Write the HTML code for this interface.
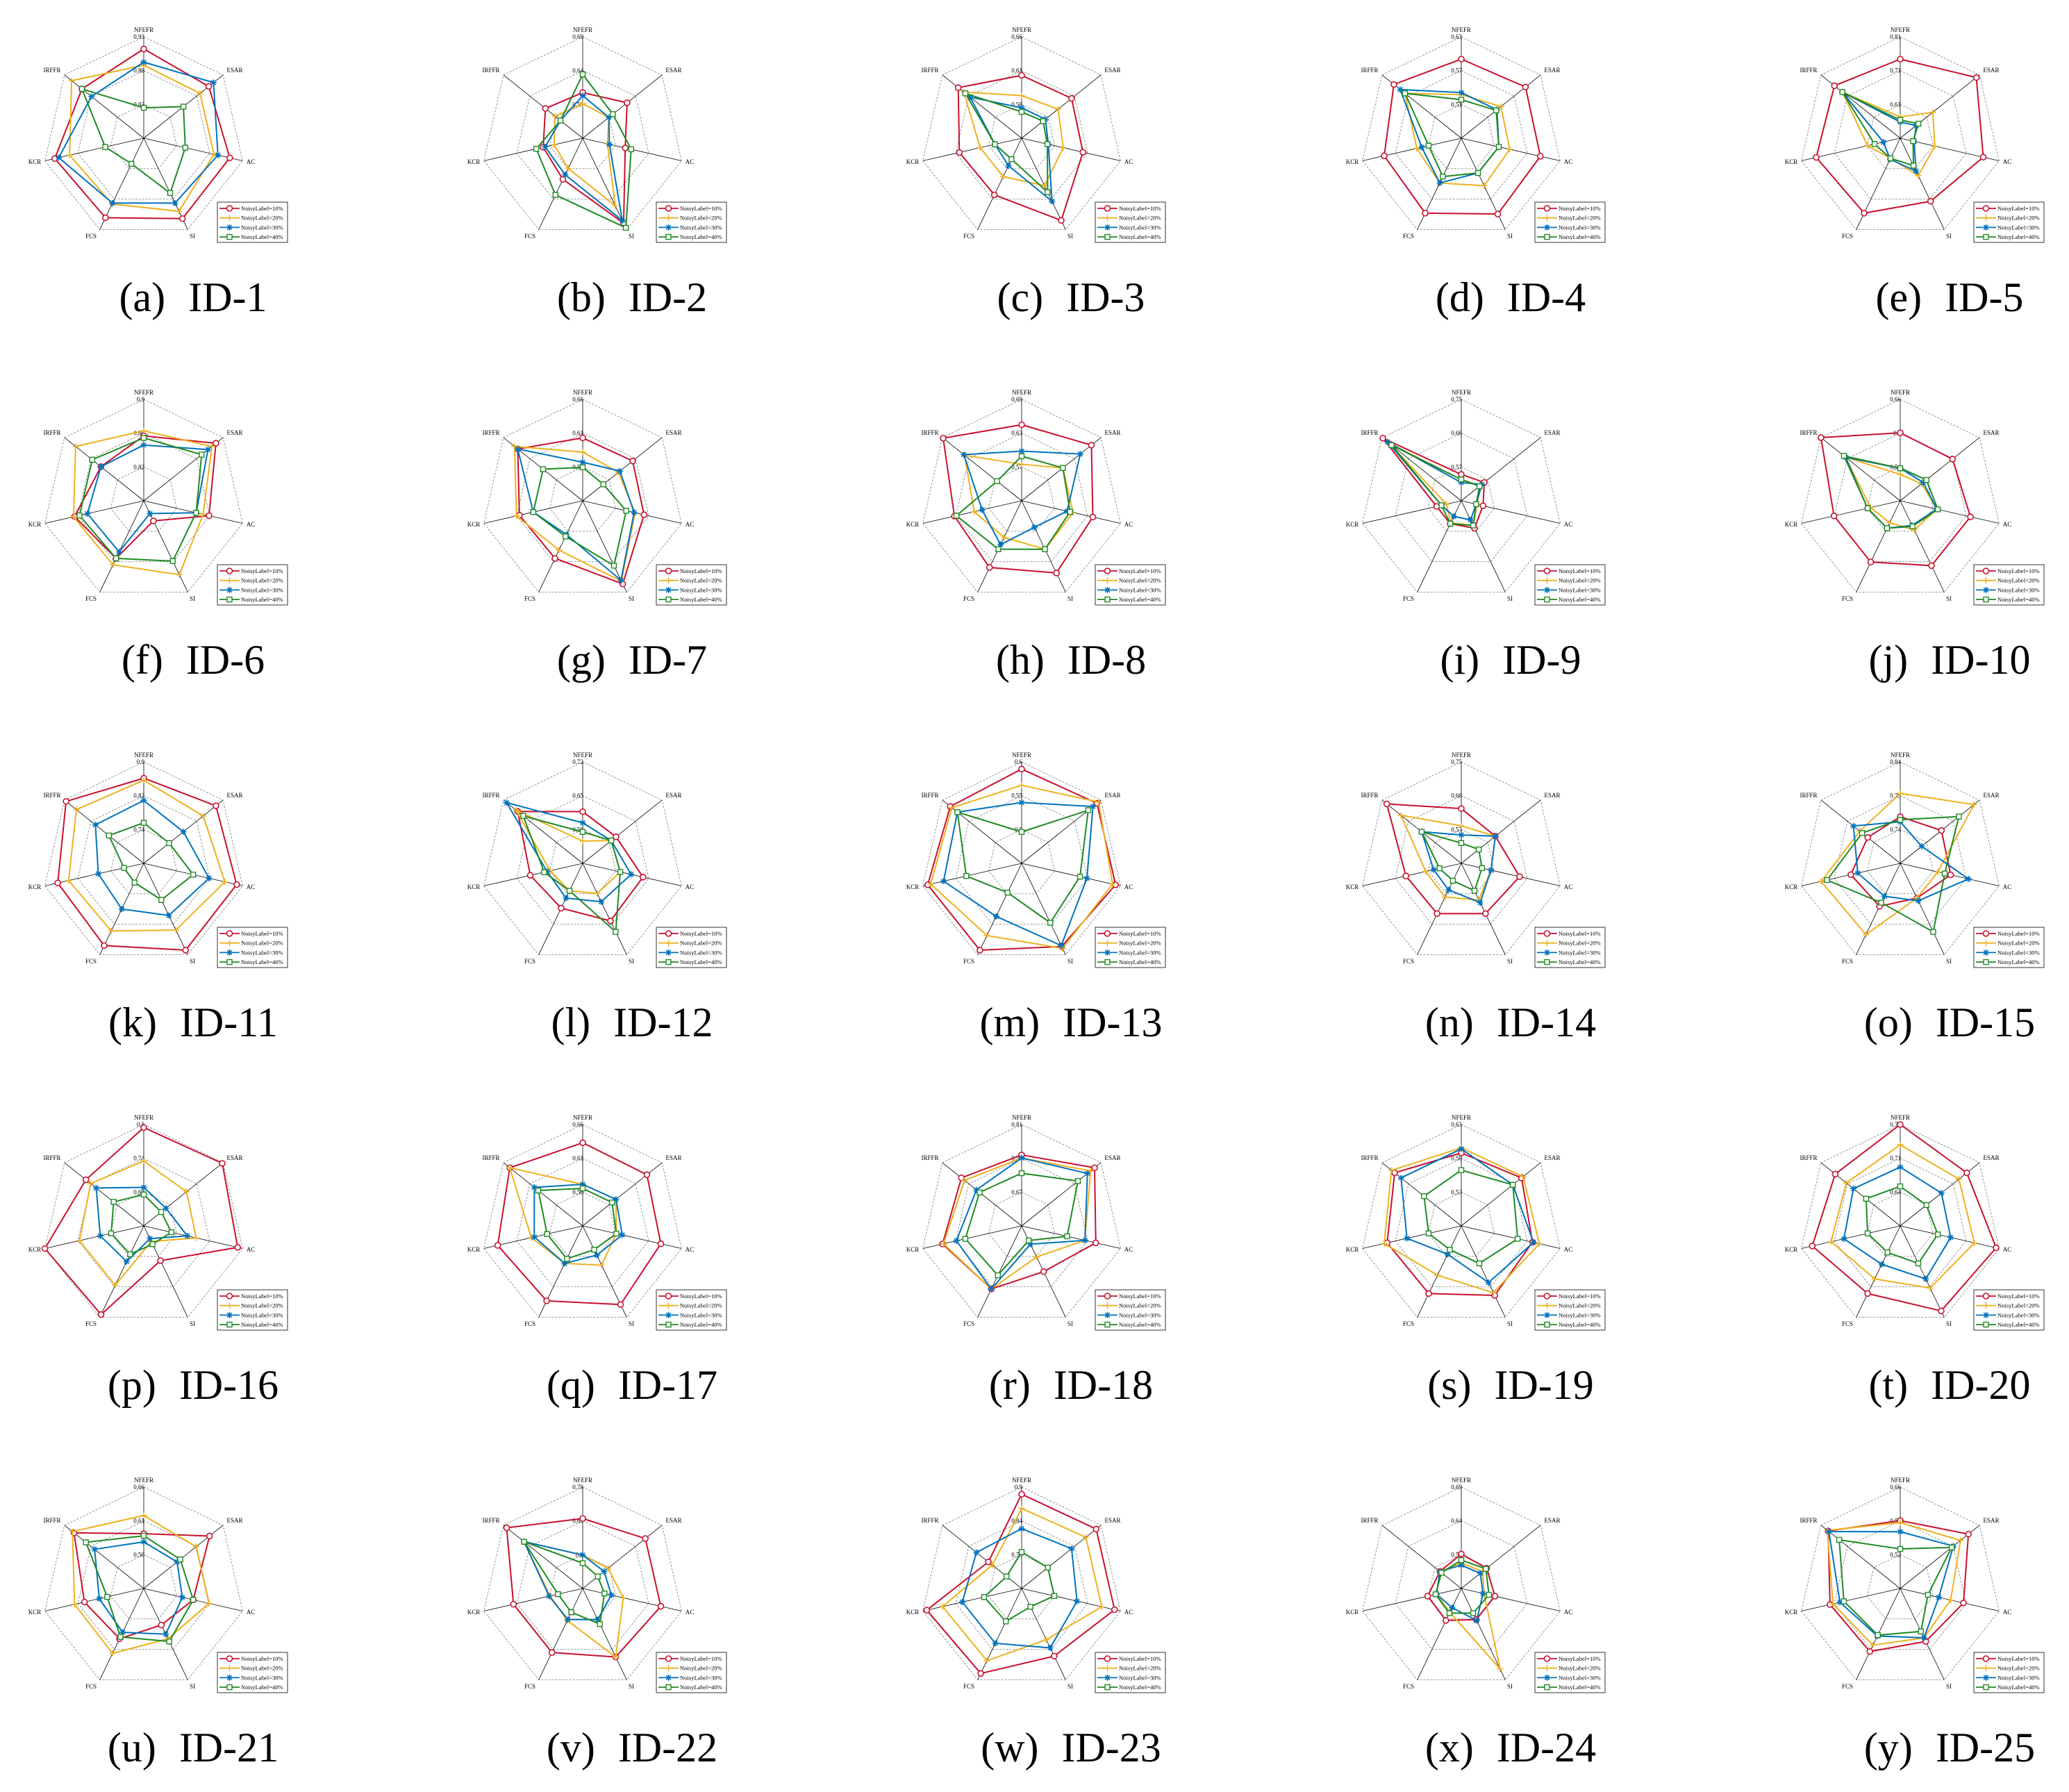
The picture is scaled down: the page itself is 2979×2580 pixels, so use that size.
<!DOCTYPE html>
<html><head><meta charset="utf-8"><title>Radar charts ID-1 to ID-25</title>
<style>
html,body{margin:0;padding:0;background:#fff;}
svg{display:block;}
text{font-family:"Liberation Serif",serif;}
</style></head>
<body>
<svg id="fig" xmlns="http://www.w3.org/2000/svg" width="2979" height="2580" viewBox="0 0 2979 2580">
<rect x="0" y="0" width="2979" height="2580" fill="#ffffff"/>
</svg>
<script>
const axisNames = ["NFEFR","ESAR","AC","SI","FCS","KCR","IRFFR"];
const letters = "abcdefghijklmnopqrstuvwxy".split("");
const seriesLabels = ["NoisyLabel=10%","NoisyLabel=20%","NoisyLabel=30%","NoisyLabel=40%"];
const tickLabels = [
["0.93","0.88","0.83"],["0.69","0.64","0.59"],["0.66","0.61","0.56"],["0.63","0.57","0.51"],["0.81","0.71","0.61"],
["0.9","0.86","0.82"],["0.66","0.61","0.56"],["0.69","0.63","0.57"],["0.75","0.66","0.57"],["0.66","0.6","0.54"],
["0.9","0.82","0.74"],["0.72","0.65","0.58"],["0.6","0.55","0.5"],["0.75","0.66","0.57"],["0.84","0.79","0.74"],
["0.8","0.74","0.68"],["0.66","0.61","0.56"],["0.81","0.74","0.67"],["0.63","0.58","0.53"],["0.78","0.71","0.64"],
["0.66","0.61","0.56"],["0.78","0.69","0.6"],["0.9","0.84","0.78"],["0.69","0.64","0.59"],["0.66","0.59","0.52"]];
// values as fraction of radial scale, order NFEFR,ESAR,AC,SI,FCS,KCR,IRFFR
const noisy10 = [
[.88,.82,.87,.88,.87,.90,.78],[.45,.56,.43,.93,.45,.40,.47],[.62,.63,.62,.90,.62,.63,.80],[.78,.81,.80,.83,.82,.78,.85],[.78,.96,.84,.69,.82,.85,.83],
[.64,.91,.66,.22,.63,.70,.54],[.62,.63,.62,.91,.63,.64,.82],[.75,.88,.72,.79,.73,.68,.99],[.26,.29,.22,.30,.25,.25,.99],[.67,.66,.71,.71,.67,.67,1.0],
[.84,.91,.94,.95,.90,.87,.98],[.51,.42,.61,.63,.49,.53,.82],[.93,.95,.95,.91,.95,.95,.90],[.54,.43,.59,.55,.55,.56,.94],[.46,.52,.51,.38,.47,.50,.41],
[.97,.99,.95,.38,.97,1.0,.73],[.82,.81,.79,.86,.82,.86,.92],[.70,.92,.75,.50,.69,.80,.76],[.72,.76,.72,.76,.74,.75,.84],[1.0,.84,.97,.93,.74,.89,.82],
[.54,.83,.50,.40,.55,.60,.88],[.69,.79,.79,.75,.70,.70,.96],[.93,.94,.94,.74,.93,.96,.42],[.34,.32,.34,.34,.35,.34,.27],[.67,.86,.64,.58,.69,.71,.91]];
const noisy20 = [
[.72,.71,.71,.80,.72,.75,.91],[.34,.33,.25,.74,.33,.29,.35],[.42,.46,.42,.52,.42,.42,.73],[.43,.50,.49,.52,.49,.45,.71],[.21,.41,.35,.41,.22,.33,.73],
[.69,.86,.60,.81,.70,.71,.86],[.48,.45,.53,.88,.54,.67,.86],[.36,.52,.52,.53,.40,.48,.72],[.21,.24,.16,.27,.24,.15,.91],[.26,.27,.37,.32,.24,.30,.69],
[.82,.75,.82,.73,.74,.76,.85],[.22,.36,.38,.33,.30,.33,.84],[.77,.97,.92,.93,.79,.92,.88],[.37,.43,.30,.40,.37,.36,.76],[.69,.93,.38,.38,.78,.80,.51],
[.64,.54,.53,.17,.65,.65,.67],[.41,.42,.34,.43,.41,.52,.92],[.67,.87,.64,.34,.69,.79,.72],[.77,.78,.79,.73,.54,.78,.88],[.80,.74,.75,.68,.58,.70,.68],
[.72,.66,.66,.55,.71,.70,.90],[.33,.32,.41,.75,.35,.33,.74],[.79,.81,.81,.56,.79,.80,.37],[.25,.27,.23,.88,.26,.25,.27],[.65,.76,.51,.54,.62,.68,.92]];
const noisy30 = [
[.75,.88,.75,.71,.71,.86,.66],[.42,.33,.27,.90,.40,.38,.28],[.30,.30,.27,.69,.30,.27,.65],[.45,.45,.38,.38,.49,.40,.77],[.16,.20,.14,.36,.23,.17,.73],
[.55,.81,.53,.14,.56,.57,.54],[.38,.47,.52,.87,.37,.50,.82],[.49,.74,.46,.29,.48,.40,.73],[.18,.26,.15,.21,.17,.20,.93],[.32,.29,.37,.27,.30,.33,.69],
[.62,.50,.66,.57,.50,.46,.61],[.40,.36,.49,.42,.38,.36,.96],[.60,.90,.66,.90,.58,.79,.81],[.28,.43,.30,.43,.29,.28,.50],[.41,.27,.69,.41,.36,.43,.59],
[.38,.28,.44,.14,.39,.44,.60],[.41,.42,.40,.32,.41,.49,.61],[.67,.83,.64,.20,.69,.66,.57],[.76,.65,.73,.62,.31,.55,.76],[.58,.52,.51,.58,.42,.57,.59],
[.46,.42,.39,.50,.48,.45,.62],[.33,.27,.29,.34,.34,.34,.74],[.59,.63,.56,.65,.60,.60,.57],[.23,.24,.22,.35,.21,.25,.27],[.56,.67,.39,.54,.52,.61,.90]];
const noisy40 = [
[.30,.50,.42,.60,.28,.39,.78],[.63,.38,.49,.98,.62,.47,.28],[.26,.27,.26,.59,.23,.27,.71],[.38,.44,.38,.38,.42,.33,.71],[.18,.23,.13,.30,.22,.26,.73],
[.62,.73,.53,.66,.63,.65,.65],[.33,.26,.44,.71,.39,.50,.50],[.44,.52,.49,.53,.53,.66,.31],[.21,.23,.15,.27,.25,.20,.88],[.32,.33,.38,.28,.30,.33,.71],
[.40,.32,.50,.40,.21,.20,.44],[.31,.36,.38,.75,.30,.39,.75],[.31,.84,.59,.65,.32,.56,.81],[.20,.22,.21,.30,.19,.22,.50],[.43,.74,.45,.75,.43,.74,.48],
[.31,.22,.28,.20,.31,.33,.38],[.37,.37,.34,.26,.36,.36,.56],[.52,.71,.46,.16,.54,.57,.53],[.55,.65,.57,.41,.26,.33,.47],[.39,.33,.38,.41,.29,.33,.43],
[.52,.46,.50,.58,.53,.37,.73],[.25,.19,.22,.39,.26,.25,.74],[.36,.33,.33,.20,.36,.38,.19],[.28,.31,.28,.27,.27,.26,.25],[.39,.65,.28,.47,.51,.57,.77]];

const NS = "http://www.w3.org/2000/svg";
const svg = document.getElementById("fig");
const colX = [207, 839, 1471, 2104, 2736];
const rowY = [199, 721, 1243, 1765, 2287];
const R = 146;
const colors = ["#c8102e", "#edb120", "#0072bd", "#1f8a24"];
const allSeries = [noisy10, noisy20, noisy30, noisy40];
const markerKinds = ["circle", "plus", "star", "square"];
const labelOff = [[0,-156],[131,-98],[154,34],[70,141],[-76,141],[-157,34],[-132,-98]];

function mk(tag, attrs, parent) {
  const e = document.createElementNS(NS, tag);
  for (const k in attrs) e.setAttribute(k, attrs[k]);
  parent.appendChild(e);
  return e;
}
function angle(i) { return -Math.PI / 2 + i * 2 * Math.PI / 7; }
function rScale(v) { return v * R; }
function pt(cx, cy, i, v) {
  const a = angle(i), r = rScale(v);
  return [cx + r * Math.cos(a), cy + r * Math.sin(a)];
}
function marker(g, kind, x, y, color) {
  let m;
  if (kind === "circle") {
    m = mk("circle", {cx: x, cy: y, r: 4, fill: "#fff", stroke: color, "stroke-width": 1.6}, g);
  } else if (kind === "square") {
    m = mk("rect", {x: x - 3.5, y: y - 3.5, width: 7, height: 7, fill: "#fff", stroke: color, "stroke-width": 1.4}, g);
  } else if (kind === "plus") {
    m = mk("path", {d: `M${x-4.5},${y}H${x+4.5}M${x},${y-4.5}V${y+4.5}`, stroke: color, "stroke-width": 1.5, fill: "none"}, g);
  } else {
    m = mk("path", {d: `M${x-4.5},${y}H${x+4.5}M${x},${y-4.5}V${y+4.5}M${x-3.3},${y-3.3}L${x+3.3},${y+3.3}M${x-3.3},${y+3.3}L${x+3.3},${y-3.3}`, stroke: color, "stroke-width": 1.5, fill: "none"}, g);
  }
  
  
}

for (let c = 0; c < 25; c++) {
  const cx = colX[c % 5], cy = rowY[Math.floor(c / 5)];
  const g = mk("g", {}, svg);
  
  
  // grid rings
  [1/3, 2/3, 1].forEach((f, k) => {
    const pts = axisNames.map((_, i) => pt(cx, cy, i, f).join(",")).join(" ");
    const ring = mk("polygon", {points: pts, fill: "none", stroke: "#8a8a8a", "stroke-width": 0.9, "stroke-dasharray": "3,2"}, g);
    
    
  });
  // spokes & axis labels
  axisNames.forEach((n, i) => {
    const [x, y] = pt(cx, cy, i, 1);
    const sp = mk("line", {x1: cx, y1: cy, x2: x, y2: y, stroke: "#000", "stroke-width": 0.8}, g);
    
    
    const t = mk("text", {x: cx + labelOff[i][0], y: cy + labelOff[i][1] + 3, "font-size": 9, "text-anchor": "middle", fill: "#000"}, g);
    t.textContent = n;
    
    
  });
  // tick labels
  tickLabels[c].forEach((tl, k) => {
    const f = 1 - k / 3;
    const t = mk("text", {x: cx + 1, y: cy - rScale(f) + 3, "font-size": 9, "text-anchor": "end", fill: "#000"}, g);
    t.textContent = tl;
    
    
  });
  // series
  allSeries.forEach((ser, s) => {
    const vals = ser[c];
    const pts = vals.map((v, i) => pt(cx, cy, i, v));
    const poly = mk("polygon", {points: pts.map(p => p.join(",")).join(" "), fill: "none", stroke: colors[s], "stroke-width": 2, "stroke-linejoin": "round"}, g);
    
    
    pts.forEach(p => marker(g, markerKinds[s], p[0], p[1], colors[s]));
  });
  // legend
  const lg = mk("g", {}, g);
  
  
  const box = mk("rect", {x: cx + 106, y: cy + 92, width: 101, height: 58, fill: "#fff", stroke: "#000", "stroke-width": 0.8}, lg);
  
  
  seriesLabels.forEach((lab, s) => {
    const ly = cy + 101 + s * 13.7;
    const ln = mk("line", {x1: cx + 109, y1: ly, x2: cx + 138, y2: ly, stroke: colors[s], "stroke-width": 1.8}, lg);
    
    
    marker(lg, markerKinds[s], cx + 123.5, ly, colors[s]);
    const t = mk("text", {x: cx + 140, y: ly + 3, "font-size": 8.6, fill: "#000"}, lg);
    t.textContent = lab;
    
    
  });
  // caption
  const cap = mk("text", {x: cx + 71, y: cy + 249, "font-size": 60, "text-anchor": "middle", "word-spacing": 18, fill: "#000"}, g);
  cap.textContent = "(" + letters[c] + ") ID-" + (c + 1);
  
  
}
</script>
</body></html>
